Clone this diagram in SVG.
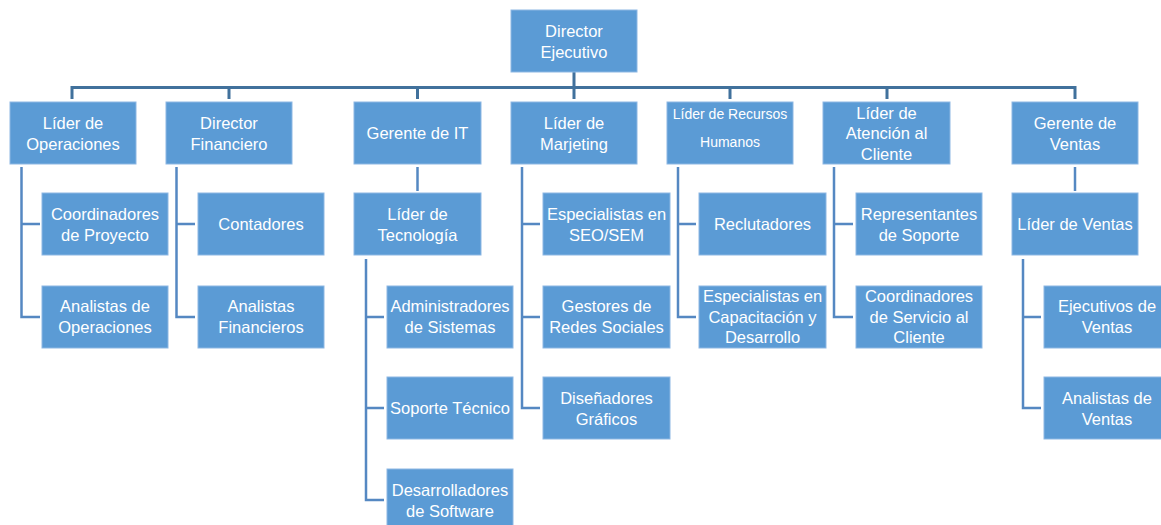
<svg xmlns="http://www.w3.org/2000/svg" width="1161" height="525" viewBox="0 0 1161 525">
<style>
.box{fill:#5B9BD5;stroke:#8DB7E3;stroke-width:1}
.t{fill:#ffffff;font-family:"Liberation Sans",Arial,sans-serif;font-size:16.5px;text-anchor:middle;dominant-baseline:central}
.s{font-size:14px}
.bus{fill:none;stroke:#41719C;stroke-width:3}
.sub{fill:none;stroke:#5588C2;stroke-width:2.5}
</style>
<rect width="1161" height="525" fill="#ffffff"/>
<g id="connectors">
<path class="bus" d="M574,72V87.5M72,99V87.5H1075V99M229,87.5V99M417.5,87.5V99M574,87.5V99M730,87.5V99M887,87.5V99"/>
<path class="sub" d="M21.5,167V317H40M21.5,224H40"/>
<path class="sub" d="M176.5,167V317H195M176.5,224H195"/>
<path class="sub" d="M417.5,167V191"/>
<path class="sub" d="M366,259V500H384M366,317H384M366,408H384"/>
<path class="sub" d="M522,167V408H540M522,224H540M522,317H540"/>
<path class="sub" d="M678,167V317H696M678,224H696"/>
<path class="sub" d="M834,167V317H853M834,224H853"/>
<path class="sub" d="M1075,167V191"/>
<path class="sub" d="M1023,259V408H1041M1023,317H1041"/>
</g>
<g id="n-ceo"><rect class="box" x="511" y="10" width="126" height="62"/><text class="t" x="574" y="30.5">Director</text><text class="t" x="574" y="51.5">Ejecutivo</text></g>
<g id="n-ops"><rect class="box" x="10" y="102" width="126" height="62"/><text class="t" x="73" y="122.5">Líder de</text><text class="t" x="73" y="143.5">Operaciones</text></g>
<g id="n-fin"><rect class="box" x="166" y="102" width="126" height="62"/><text class="t" x="229" y="122.5">Director</text><text class="t" x="229" y="143.5">Financiero</text></g>
<g id="n-it"><rect class="box" x="354" y="102" width="127" height="62"/><text class="t" x="417.5" y="133">Gerente de IT</text></g>
<g id="n-mkt"><rect class="box" x="511" y="102" width="126" height="62"/><text class="t" x="574" y="122.5">Líder de</text><text class="t" x="574" y="143.5">Marjeting</text></g>
<g id="n-rh"><rect class="box" x="667" y="102" width="126" height="62"/><text class="t s" x="730" y="114">Líder de Recursos</text><text class="t s" x="730" y="141.5">Humanos</text></g>
<g id="n-aten"><rect class="box" x="823" y="102" width="127" height="62"/><text class="t" x="886.5" y="113">Líder de</text><text class="t" x="886.5" y="133.3">Atención al</text><text class="t" x="886.5" y="153.5">Cliente</text></g>
<g id="n-ven"><rect class="box" x="1012" y="102" width="126" height="62"/><text class="t" x="1075" y="122.5">Gerente de</text><text class="t" x="1075" y="143.5">Ventas</text></g>
<g id="n-coord"><rect class="box" x="42" y="193" width="126" height="62"/><text class="t" x="105" y="213.5">Coordinadores</text><text class="t" x="105" y="234.5">de Proyecto</text></g>
<g id="n-anop"><rect class="box" x="42" y="286" width="126" height="62"/><text class="t" x="105" y="306">Analistas de</text><text class="t" x="105" y="327">Operaciones</text></g>
<g id="n-cont"><rect class="box" x="198" y="193" width="126" height="62"/><text class="t" x="261" y="224">Contadores</text></g>
<g id="n-anfin"><rect class="box" x="198" y="286" width="126" height="62"/><text class="t" x="261" y="306">Analistas</text><text class="t" x="261" y="327">Financieros</text></g>
<g id="n-tec"><rect class="box" x="354" y="193" width="127" height="62"/><text class="t" x="417.5" y="213.5">Líder de</text><text class="t" x="417.5" y="234.5">Tecnología</text></g>
<g id="n-adm"><rect class="box" x="387" y="286" width="126" height="62"/><text class="t" x="450" y="306">Administradores</text><text class="t" x="450" y="327">de Sistemas</text></g>
<g id="n-sop"><rect class="box" x="387" y="377" width="126" height="62"/><text class="t" x="450" y="408">Soporte Técnico</text></g>
<g id="n-dev"><rect class="box" x="387" y="469" width="126" height="62"/><text class="t" x="450" y="489.5">Desarrolladores</text><text class="t" x="450" y="510.5">de Software</text></g>
<g id="n-seo"><rect class="box" x="543" y="193" width="127" height="62"/><text class="t" x="606.5" y="213.5">Especialistas en</text><text class="t" x="606.5" y="234.5">SEO/SEM</text></g>
<g id="n-redes"><rect class="box" x="543" y="286" width="127" height="62"/><text class="t" x="606.5" y="306">Gestores de</text><text class="t" x="606.5" y="327">Redes Sociales</text></g>
<g id="n-dis"><rect class="box" x="543" y="377" width="127" height="62"/><text class="t" x="606.5" y="397.5">Diseñadores</text><text class="t" x="606.5" y="418.5">Gráficos</text></g>
<g id="n-recl"><rect class="box" x="699" y="193" width="127" height="62"/><text class="t" x="762.5" y="224">Reclutadores</text></g>
<g id="n-capac"><rect class="box" x="699" y="286" width="127" height="62"/><text class="t" x="762.5" y="296">Especialistas en</text><text class="t" x="762.5" y="316.5">Capacitación y</text><text class="t" x="762.5" y="337">Desarrollo</text></g>
<g id="n-rep"><rect class="box" x="856" y="193" width="126" height="62"/><text class="t" x="919" y="213.5">Representantes</text><text class="t" x="919" y="234.5">de Soporte</text></g>
<g id="n-cserv"><rect class="box" x="856" y="286" width="126" height="62"/><text class="t" x="919" y="296">Coordinadores</text><text class="t" x="919" y="316.5">de Servicio al</text><text class="t" x="919" y="337">Cliente</text></g>
<g id="n-lven"><rect class="box" x="1012" y="193" width="126" height="62"/><text class="t" x="1075" y="224">Líder de Ventas</text></g>
<g id="n-ejec"><rect class="box" x="1044" y="286" width="126" height="62"/><text class="t" x="1107" y="306">Ejecutivos de</text><text class="t" x="1107" y="327">Ventas</text></g>
<g id="n-anven"><rect class="box" x="1044" y="377" width="126" height="62"/><text class="t" x="1107" y="397.5">Analistas de</text><text class="t" x="1107" y="418.5">Ventas</text></g>
</svg>
